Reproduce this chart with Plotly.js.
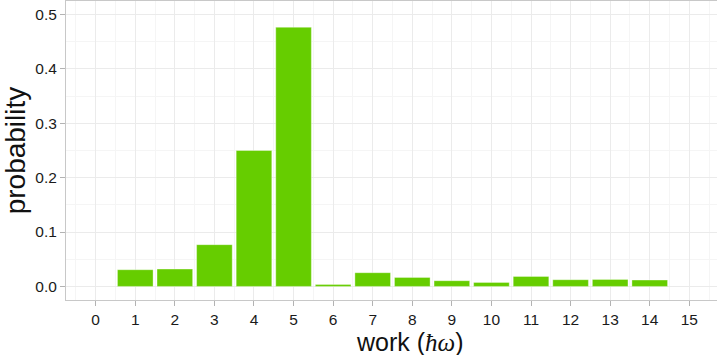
<!DOCTYPE html>
<html>
<head>
<meta charset="utf-8">
<script src="https://cdn.plot.ly/plotly-3.0.1.min.js"></script>
<style>
html,body{margin:0;padding:0;overflow:hidden;background:#fff;width:717px;height:355px;}
#chart{width:720px;height:355px;}
</style>
</head>
<body>
<div id="chart"></div>
<script>
const work = [1, 2, 3, 4, 5, 6, 7, 8, 9, 10, 11, 12, 13, 14];
const probability = [0.0307, 0.0319, 0.0768, 0.2500, 0.4767, 0.0037, 0.0252, 0.0166, 0.0105, 0.0074, 0.0184, 0.0123, 0.0129, 0.0117];
const xTicks = [0, 1, 2, 3, 4, 5, 6, 7, 8, 9, 10, 11, 12, 13, 14, 15];
const yTicks = [0.0, 0.1, 0.2, 0.3, 0.4, 0.5];
const xTitle = 'work (<span style="font-family:Liberation Serif, DejaVu Serif, serif"><i>ħω</i></span>)';
const yTitle = 'probability';

const trace = {
  type: 'bar',
  x: work,
  y: probability,
  marker: {color: '#66CD00', line: {color: 'rgba(255,255,255,0.35)', width: 1}},
  hoverinfo: 'x+y'
};

const layout = {
  width: 720,
  height: 355,
  margin: {l: 66, r: 1, t: 1, b: 55},
  paper_bgcolor: '#ffffff',
  plot_bgcolor: '#ffffff',
  bargap: 0.1,
  showlegend: false,
  font: {family: 'Liberation Sans, Arial, sans-serif', color: '#1a1a1a'},
  xaxis: {
    range: [-0.75, 15.75],
    tickvals: xTicks,
    ticktext: xTicks.map(String),
    ticks: 'outside', ticklen: 5, tickcolor: '#b3b3b3', tickwidth: 1,
    tickfont: {size: 15.5, color: '#1a1a1a'},
    showgrid: true, gridcolor: '#ebebeb', gridwidth: 1,
    minor: {dtick: 0.5, tick0: 0.5, showgrid: true, gridcolor: '#f5f5f5', gridwidth: 1},
    showline: true, linecolor: '#c8c8c8', linewidth: 1, mirror: true,
    zeroline: false
  },
  yaxis: {
    range: [-0.025, 0.525],
    tickvals: yTicks,
    ticktext: yTicks.map(v => v.toFixed(1)),
    ticks: 'outside', ticklen: 5, tickcolor: '#b3b3b3', tickwidth: 1,
    tickfont: {size: 15.5, color: '#1a1a1a'},
    showgrid: true, gridcolor: '#ebebeb', gridwidth: 1,
    minor: {dtick: 0.05, tick0: 0.05, showgrid: true, gridcolor: '#f5f5f5', gridwidth: 1},
    showline: true, linecolor: '#c8c8c8', linewidth: 1, mirror: true,
    zeroline: false,
    title: {text: yTitle, font: {size: 28, color: '#111'}, standoff: 6}
  },
  annotations: [{
    text: xTitle,
    xref: 'paper', yref: 'paper',
    x: 0.527, y: -0.142,
    xanchor: 'center', yanchor: 'middle',
    showarrow: false,
    font: {size: 25, color: '#111'}
  }]
};

Plotly.newPlot('chart', [trace], layout, {displayModeBar: false, staticPlot: true});
</script>
</body>
</html>
